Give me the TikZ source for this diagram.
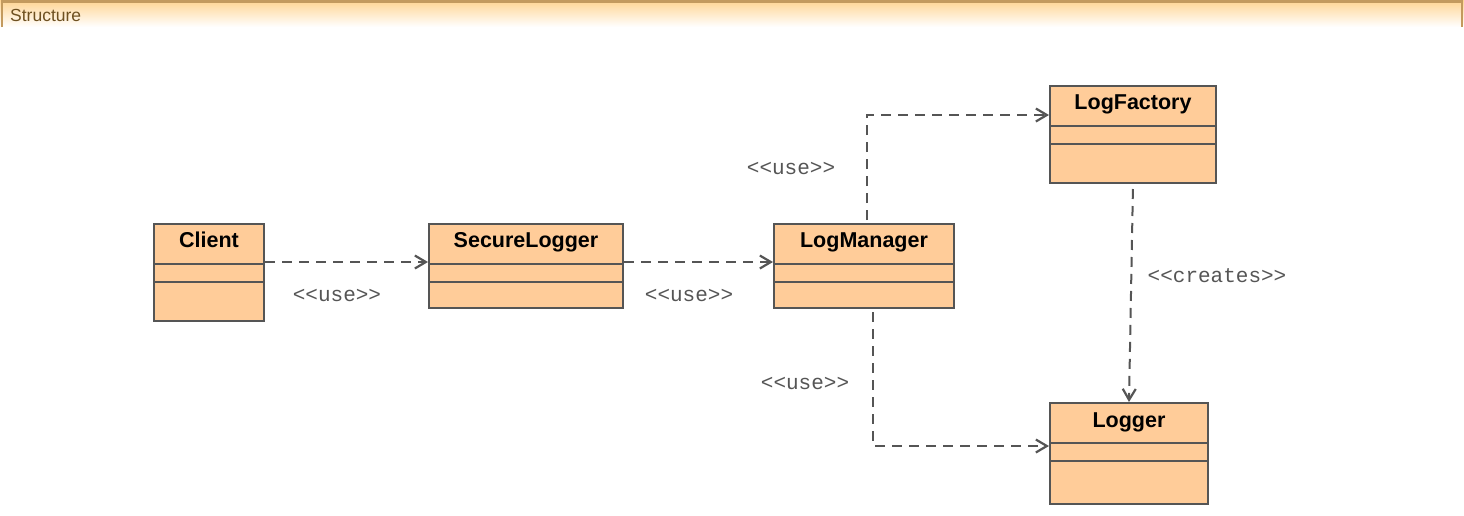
\documentclass[tikz,border=0pt]{standalone}
\usepackage{fontspec}
\setmainfont{Liberation Sans}
\setmonofont{Liberation Mono}
\usetikzlibrary{arrows.meta}
\definecolor{classfill}{HTML}{FFCC99}
\definecolor{classline}{HTML}{555555}
\definecolor{headtop}{HTML}{FFD491}
\definecolor{headline}{HTML}{C39A5E}
\definecolor{headtext}{HTML}{6E5020}

\begin{document}
\begin{tikzpicture}[x=1pt,y=-1pt,
			every path/.style={>={Straight Barb[length=11pt,width=13pt,line width=2.2pt]}},
			classbox/.style={draw=classline,fill=classfill,line width=2pt,anchor=north west,inner sep=0pt},
			classname/.style={font=\fontsize{21.5}{24}\selectfont\bfseries,anchor=base,inner sep=0pt},
			sep/.style={draw=classline,line width=2pt},
			use/.style={->,draw=classline,line width=2pt,dash pattern=on 10pt off 7pt},
			stereo/.style={font=\fontsize{21}{24}\selectfont\ttfamily,text=classline,anchor=base,inner sep=0pt}]
			\useasboundingbox (0,0) rectangle (1464,515);

			\shade[top color=headtop,bottom color=white] (0,0) rectangle (1464,27);
			\draw[headline,line width=2.5pt] (2,27) -- (2,1.25) -- (1462,1.25) -- (1462,27);
			\node[anchor=base west,text=headtext,font=\fontsize{17.5}{20}\selectfont,inner sep=0pt] (title) at (10,21) {Structure};

			\node[classbox,minimum width=110pt,minimum height=97pt] (client) at (153,223) {};
			\node[classbox,minimum width=194pt,minimum height=84pt] (slogger) at (428,223) {};
			\node[classbox,minimum width=180pt,minimum height=84pt] (manager) at (773,223) {};
			\node[classbox,minimum width=166pt,minimum height=97pt] (factory) at (1049,85) {};
			\node[classbox,minimum width=158pt,minimum height=101pt] (logger) at (1049,402) {};

			\node[classname] (clientname) at ([yshift=-24pt]client.north) {Client};
			\node[classname] (sloggername) at ([yshift=-24pt]slogger.north) {SecureLogger};
			\node[classname] (managername) at ([yshift=-24pt]manager.north) {LogManager};
			\node[classname] (factoryname) at ([yshift=-24pt]factory.north) {LogFactory};
			\node[classname] (loggername) at ([yshift=-25pt]logger.north) {Logger};

			\foreach \c in {client,slogger,manager,factory,logger}{
				\draw[sep] ([yshift=-41pt]\c.north west) -- ([yshift=-41pt]\c.north east);
				\draw[sep] ([yshift=-59pt]\c.north west) -- ([yshift=-59pt]\c.north east);
			}

			\draw[use] ([yshift=-39pt]client.north east) -- ([yshift=-39pt]slogger.north west);
			\draw[use] ([yshift=-39pt]slogger.north east) -- ([yshift=-39pt]manager.north west);
			\draw[use] ([xshift=3pt,yshift=3pt]manager.north) |- ([yshift=-30pt]factory.north west);
			\draw[use] ([xshift=9pt,yshift=-3pt]manager.south) |- ([yshift=-44pt]logger.north west);
			\draw[use,shorten <=5pt] (factory.south) -- (logger.north);

			\node[stereo] (use1) at (337,301) {<<use>>};
			\node[stereo] (use2) at (689,301) {<<use>>};
			\node[stereo] (use3) at (791,174) {<<use>>};
			\node[stereo] (use4) at (805,389) {<<use>>};
			\node[stereo] (creates) at (1217,282) {<<creates>>};
		\end{tikzpicture}
\end{document}
